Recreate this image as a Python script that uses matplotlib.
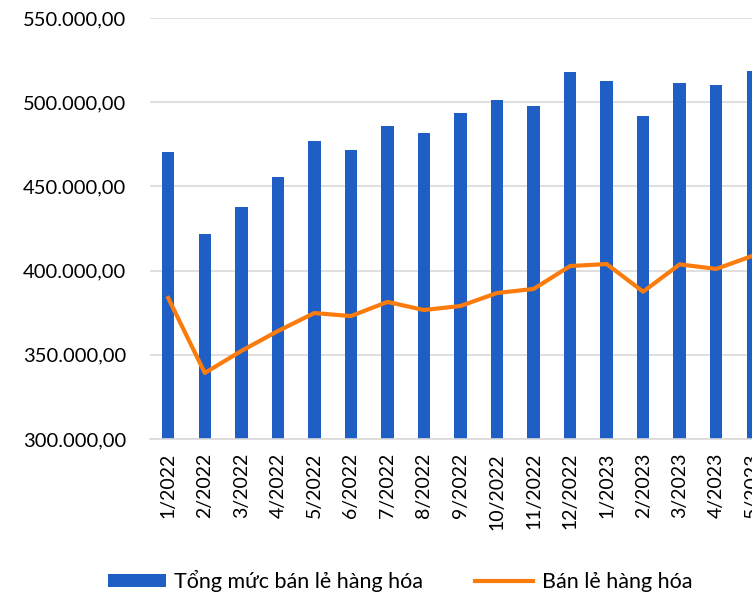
import matplotlib
matplotlib.use("Agg")
import matplotlib.pyplot as plt
from matplotlib.ticker import FuncFormatter, MultipleLocator

# dữ liệu (tỷ đồng)
months = ["1/2022", "2/2022", "3/2022", "4/2022", "5/2022", "6/2022", "7/2022",
          "8/2022", "9/2022", "10/2022", "11/2022", "12/2022", "1/2023", "2/2023",
          "3/2023", "4/2023", "5/2023"]
tong_muc = [470400, 421700, 437800, 455600, 477000, 471600, 485900, 481700,
            493600, 501300, 497700, 517900, 512600, 491800, 511400, 510300, 518700]
ban_le = [383700, 339200, 352300, 364100, 374800, 373000, 381400, 376600,
          379000, 386700, 389100, 402700, 403900, 387500, 403700, 401000, 408800]

BLUE = "#1f5ec4"
ORANGE = "#fb7c0d"
GRID = "#d9d9d9"

plt.rcParams["font.family"] = ["Lato", "DejaVu Sans"]

fig = plt.figure(figsize=(7.52, 5.94), dpi=100)
# trục rộng hơn khung hình: phần bên phải bị cắt như ảnh gốc
W, H = 752, 594
left, right, top, bottom = 150, 150 + 17 * 36.53, 18, 439
ax = fig.add_axes([left / W, 1 - bottom / H, (right - left) / W, (bottom - top) / H])

x = list(range(len(months)))
bars = ax.bar(x, tong_muc, width=0.34, color=BLUE, zorder=2)
line, = ax.plot(x, ban_le, color=ORANGE, linewidth=3, zorder=3)

ax.set_xlim(-0.5, len(months) - 0.5)
ax.set_ylim(300000, 550000)
ax.yaxis.set_major_locator(MultipleLocator(50000))
ax.yaxis.set_major_formatter(FuncFormatter(
    lambda v, p: f"{v:,.2f}".replace(",", "X").replace(".", ",").replace("X", ".")))
ax.grid(axis="y", color=GRID, linewidth=1.2, zorder=0)
for s in ["top", "right", "left"]:
    ax.spines[s].set_visible(False)
ax.spines["bottom"].set_color(GRID)
ax.spines["bottom"].set_linewidth(1.2)
ax.tick_params(length=0, labelsize=14.5, colors="black")
ax.tick_params(axis="y", pad=17)
ax.tick_params(axis="x", pad=10, labelsize=14)
ax.set_xticks(x)
ax.set_xticklabels(months, rotation=90)

fig.legend([bars, line], ["Tổng mức bán lẻ hàng hóa", "Bán lẻ hàng hóa"],
           loc="center", bbox_to_anchor=(400 / W, 1 - 581 / H), ncol=2, frameon=False,
           fontsize=15.5, handlelength=2.7, handleheight=0.6, columnspacing=2.4,
           handletextpad=0.4)

fig.savefig("out.png", dpi=100)
